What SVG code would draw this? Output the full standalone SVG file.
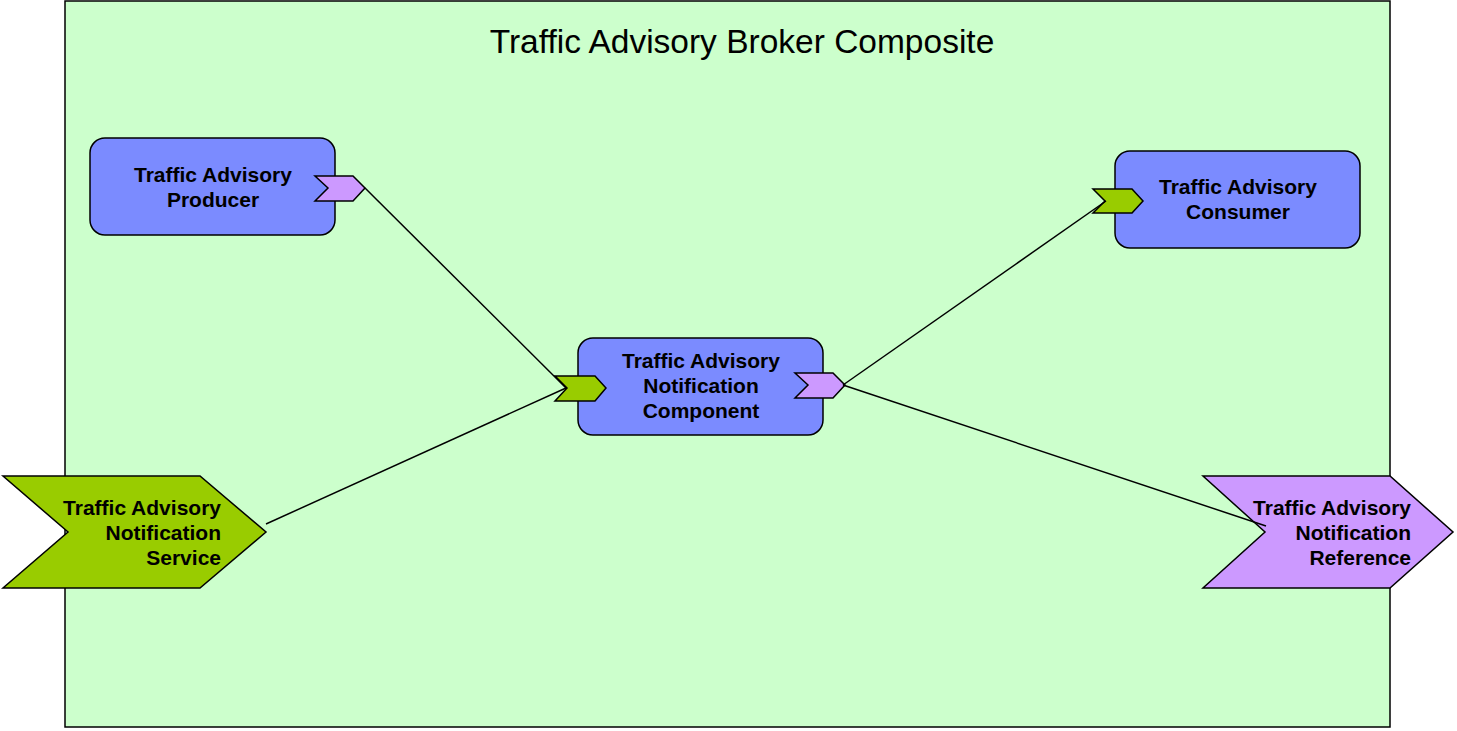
<svg xmlns="http://www.w3.org/2000/svg" width="1457" height="731" viewBox="0 0 1457 731">
<style>
.comp{fill:#7B8BFF;stroke:#000;stroke-width:1.5}
.green{fill:#99CC00;stroke:#000;stroke-width:1.5;stroke-linejoin:miter}
.purple{fill:#CC99FF;stroke:#000;stroke-width:1.5;stroke-linejoin:miter}
.lbl{font-family:"Liberation Sans",Arial,sans-serif;font-weight:bold;font-size:21px;fill:#000}
.c{text-anchor:middle}
.r{text-anchor:end}
.conn{stroke:#000;stroke-width:1.5;fill:none}
</style>
<rect id="composite" x="65" y="1" width="1325" height="726" fill="#CCFFCC" stroke="#000" stroke-width="1.5"/>
<text x="742" y="53" font-family="Liberation Sans,Arial,sans-serif" font-size="33.5" text-anchor="middle" fill="#000">Traffic Advisory Broker Composite</text>

<g id="service">
<polygon class="green" points="3,476 200,476 266,532 200,588 3,588 68,532"/>
<text class="lbl r" x="221" y="515">Traffic Advisory</text>
<text class="lbl r" x="221" y="540">Notification</text>
<text class="lbl r" x="221" y="565">Service</text>
</g>

<g id="reference">
<polygon class="purple" points="1203,476 1390,476 1453,532 1390,588 1203,588 1265,532"/>
<text class="lbl r" x="1411" y="515">Traffic Advisory</text>
<text class="lbl r" x="1411" y="540">Notification</text>
<text class="lbl r" x="1411" y="565">Reference</text>
</g>

<g id="producer">
<rect class="comp" x="90" y="138" width="245" height="97" rx="15"/>
<text class="lbl c" x="213" y="182">Traffic Advisory</text>
<text class="lbl c" x="213" y="207">Producer</text>
<polygon class="purple" points="315,176 353,176 365,188 353,201 315,201 328,188"/>
</g>

<g id="consumer">
<rect class="comp" x="1115" y="151" width="245" height="97" rx="15"/>
<text class="lbl c" x="1238" y="194">Traffic Advisory</text>
<text class="lbl c" x="1238" y="219">Consumer</text>
<polygon class="green" points="1093,189 1132,189 1143,201 1132,213 1093,213 1105,201"/>
</g>

<g id="notification-component">
<rect class="comp" x="578" y="338" width="245" height="97" rx="15"/>
<text class="lbl c" x="701" y="368">Traffic Advisory</text>
<text class="lbl c" x="701" y="393">Notification</text>
<text class="lbl c" x="701" y="418">Component</text>
<polygon class="green" points="555,376 595,376 606,388 595,401 555,401 567,388"/>
<polygon class="purple" points="795,373 833,373 845,385 833,398 795,398 808,385"/>
</g>

<g id="connectors">
<line class="conn" x1="365" y1="188" x2="566" y2="388"/>
<line class="conn" x1="266" y1="524" x2="566" y2="388"/>
<line class="conn" x1="843" y1="385" x2="1106" y2="201"/>
<line class="conn" x1="843" y1="385" x2="1266" y2="526"/>
</g>
</svg>
